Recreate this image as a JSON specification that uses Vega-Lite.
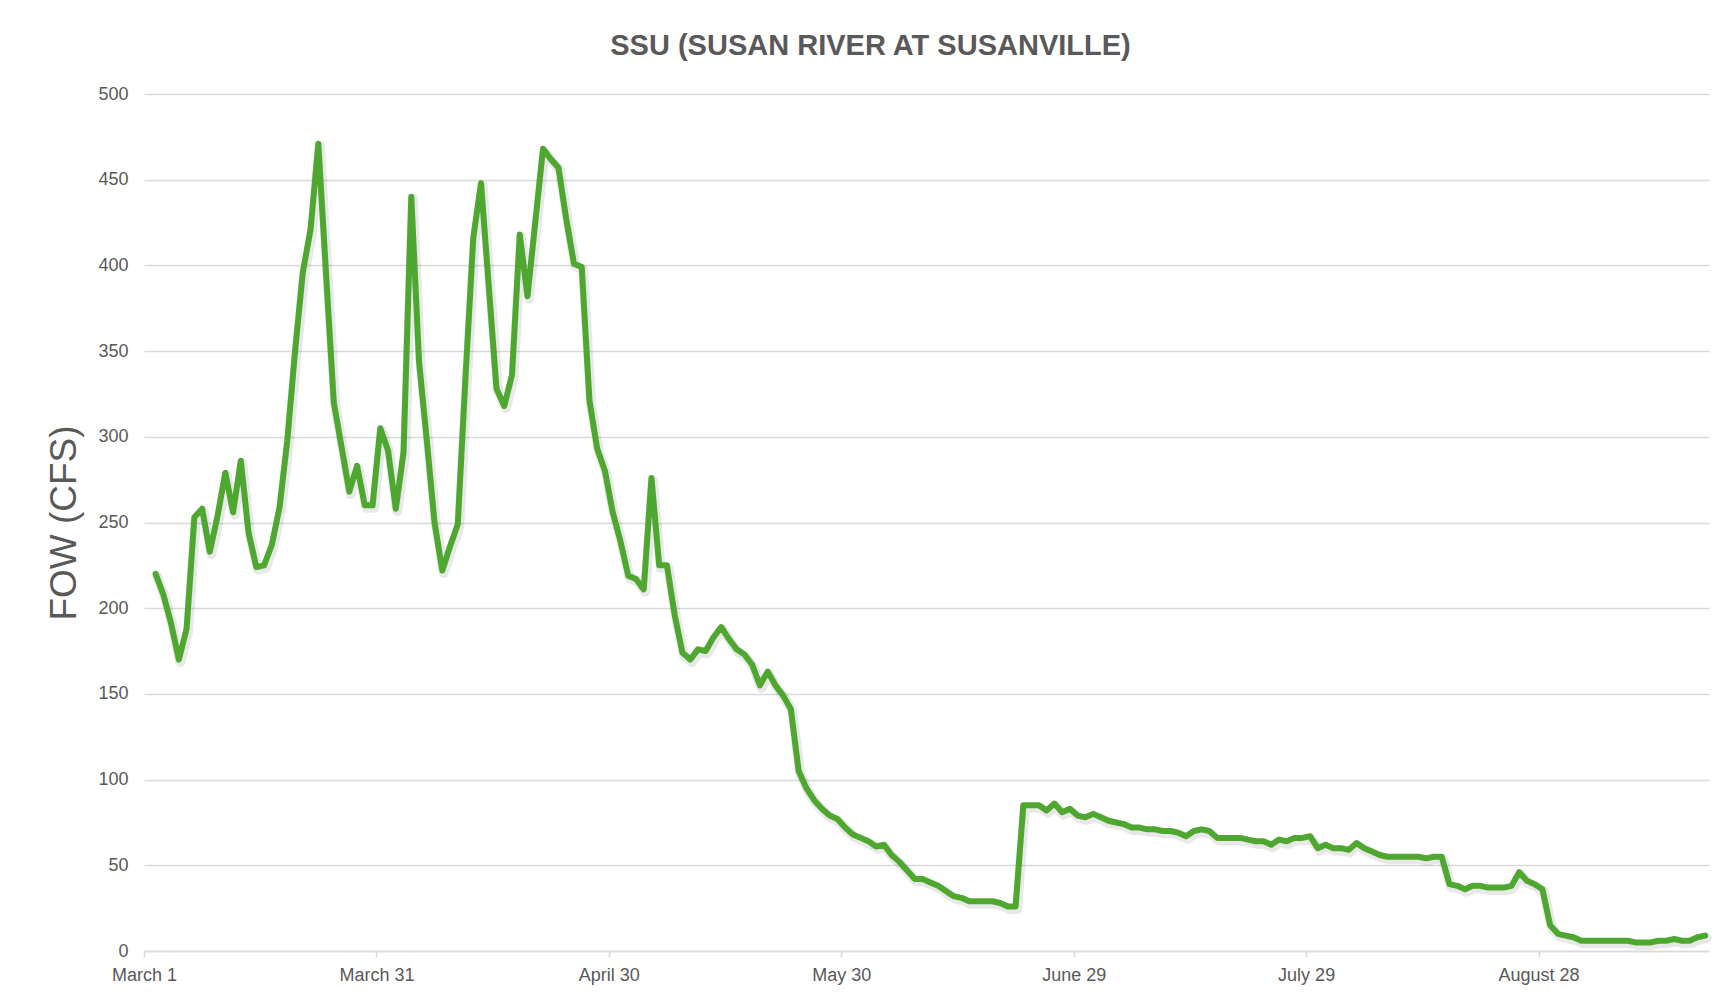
{
  "$schema": "https://vega.github.io/schema/vega-lite/v6.json",
  "width": 1565,
  "height": 857,
  "autosize": {"type": "none"},
  "padding": {"left": 144, "top": 94, "right": 23, "bottom": 49},
  "background": "white",
  "title": {
    "text": "SSU (SUSAN RIVER AT SUSANVILLE)",
    "font": "Liberation Sans",
    "fontWeight": "bold",
    "fontSize": 29,
    "color": "#595959",
    "anchor": "middle",
    "dx": -56,
    "offset": 1,
    "baseline": "alphabetic"
  },
  "data": {
    "values": [
      {"date": "2023-03-02", "flow": 220}, {"date": "2023-03-03", "flow": 208}, {"date": "2023-03-04", "flow": 191},
      {"date": "2023-03-05", "flow": 170}, {"date": "2023-03-06", "flow": 188}, {"date": "2023-03-07", "flow": 253},
      {"date": "2023-03-08", "flow": 258}, {"date": "2023-03-09", "flow": 233}, {"date": "2023-03-10", "flow": 254},
      {"date": "2023-03-11", "flow": 279}, {"date": "2023-03-12", "flow": 256}, {"date": "2023-03-13", "flow": 286},
      {"date": "2023-03-14", "flow": 244}, {"date": "2023-03-15", "flow": 224}, {"date": "2023-03-16", "flow": 225},
      {"date": "2023-03-17", "flow": 237}, {"date": "2023-03-18", "flow": 259}, {"date": "2023-03-19", "flow": 298},
      {"date": "2023-03-20", "flow": 350}, {"date": "2023-03-21", "flow": 396}, {"date": "2023-03-22", "flow": 421},
      {"date": "2023-03-23", "flow": 471}, {"date": "2023-03-24", "flow": 395}, {"date": "2023-03-25", "flow": 320},
      {"date": "2023-03-26", "flow": 294}, {"date": "2023-03-27", "flow": 268}, {"date": "2023-03-28", "flow": 283},
      {"date": "2023-03-29", "flow": 260}, {"date": "2023-03-30", "flow": 260}, {"date": "2023-03-31", "flow": 305},
      {"date": "2023-04-01", "flow": 292}, {"date": "2023-04-02", "flow": 258}, {"date": "2023-04-03", "flow": 291},
      {"date": "2023-04-04", "flow": 440}, {"date": "2023-04-05", "flow": 344}, {"date": "2023-04-06", "flow": 298},
      {"date": "2023-04-07", "flow": 250}, {"date": "2023-04-08", "flow": 222}, {"date": "2023-04-09", "flow": 236},
      {"date": "2023-04-10", "flow": 249}, {"date": "2023-04-11", "flow": 335}, {"date": "2023-04-12", "flow": 416},
      {"date": "2023-04-13", "flow": 448}, {"date": "2023-04-14", "flow": 388}, {"date": "2023-04-15", "flow": 328},
      {"date": "2023-04-16", "flow": 318}, {"date": "2023-04-17", "flow": 336}, {"date": "2023-04-18", "flow": 418},
      {"date": "2023-04-19", "flow": 382}, {"date": "2023-04-20", "flow": 425}, {"date": "2023-04-21", "flow": 468},
      {"date": "2023-04-22", "flow": 462}, {"date": "2023-04-23", "flow": 457}, {"date": "2023-04-24", "flow": 427},
      {"date": "2023-04-25", "flow": 401}, {"date": "2023-04-26", "flow": 399}, {"date": "2023-04-27", "flow": 321},
      {"date": "2023-04-28", "flow": 293}, {"date": "2023-04-29", "flow": 280}, {"date": "2023-04-30", "flow": 256},
      {"date": "2023-05-01", "flow": 239}, {"date": "2023-05-02", "flow": 219}, {"date": "2023-05-03", "flow": 217},
      {"date": "2023-05-04", "flow": 211}, {"date": "2023-05-05", "flow": 276}, {"date": "2023-05-06", "flow": 225},
      {"date": "2023-05-07", "flow": 225}, {"date": "2023-05-08", "flow": 196}, {"date": "2023-05-09", "flow": 174},
      {"date": "2023-05-10", "flow": 170}, {"date": "2023-05-11", "flow": 176}, {"date": "2023-05-12", "flow": 175},
      {"date": "2023-05-13", "flow": 183}, {"date": "2023-05-14", "flow": 189}, {"date": "2023-05-15", "flow": 182},
      {"date": "2023-05-16", "flow": 176}, {"date": "2023-05-17", "flow": 173}, {"date": "2023-05-18", "flow": 167},
      {"date": "2023-05-19", "flow": 155}, {"date": "2023-05-20", "flow": 163}, {"date": "2023-05-21", "flow": 155},
      {"date": "2023-05-22", "flow": 149}, {"date": "2023-05-23", "flow": 141}, {"date": "2023-05-24", "flow": 105},
      {"date": "2023-05-25", "flow": 95}, {"date": "2023-05-26", "flow": 88}, {"date": "2023-05-27", "flow": 83},
      {"date": "2023-05-28", "flow": 79}, {"date": "2023-05-29", "flow": 77}, {"date": "2023-05-30", "flow": 72},
      {"date": "2023-05-31", "flow": 68}, {"date": "2023-06-01", "flow": 66}, {"date": "2023-06-02", "flow": 64},
      {"date": "2023-06-03", "flow": 61}, {"date": "2023-06-04", "flow": 62}, {"date": "2023-06-05", "flow": 56},
      {"date": "2023-06-06", "flow": 52}, {"date": "2023-06-07", "flow": 47}, {"date": "2023-06-08", "flow": 42},
      {"date": "2023-06-09", "flow": 42}, {"date": "2023-06-10", "flow": 40}, {"date": "2023-06-11", "flow": 38},
      {"date": "2023-06-12", "flow": 35}, {"date": "2023-06-13", "flow": 32}, {"date": "2023-06-14", "flow": 31},
      {"date": "2023-06-15", "flow": 29}, {"date": "2023-06-16", "flow": 29}, {"date": "2023-06-17", "flow": 29},
      {"date": "2023-06-18", "flow": 29}, {"date": "2023-06-19", "flow": 28}, {"date": "2023-06-20", "flow": 26},
      {"date": "2023-06-21", "flow": 26}, {"date": "2023-06-22", "flow": 85}, {"date": "2023-06-23", "flow": 85},
      {"date": "2023-06-24", "flow": 85}, {"date": "2023-06-25", "flow": 82}, {"date": "2023-06-26", "flow": 86},
      {"date": "2023-06-27", "flow": 81}, {"date": "2023-06-28", "flow": 83}, {"date": "2023-06-29", "flow": 79},
      {"date": "2023-06-30", "flow": 78}, {"date": "2023-07-01", "flow": 80}, {"date": "2023-07-02", "flow": 78},
      {"date": "2023-07-03", "flow": 76}, {"date": "2023-07-04", "flow": 75}, {"date": "2023-07-05", "flow": 74},
      {"date": "2023-07-06", "flow": 72}, {"date": "2023-07-07", "flow": 72}, {"date": "2023-07-08", "flow": 71},
      {"date": "2023-07-09", "flow": 71}, {"date": "2023-07-10", "flow": 70}, {"date": "2023-07-11", "flow": 70},
      {"date": "2023-07-12", "flow": 69}, {"date": "2023-07-13", "flow": 67}, {"date": "2023-07-14", "flow": 70},
      {"date": "2023-07-15", "flow": 71}, {"date": "2023-07-16", "flow": 70}, {"date": "2023-07-17", "flow": 66},
      {"date": "2023-07-18", "flow": 66}, {"date": "2023-07-19", "flow": 66}, {"date": "2023-07-20", "flow": 66},
      {"date": "2023-07-21", "flow": 65}, {"date": "2023-07-22", "flow": 64}, {"date": "2023-07-23", "flow": 64},
      {"date": "2023-07-24", "flow": 62}, {"date": "2023-07-25", "flow": 65}, {"date": "2023-07-26", "flow": 64},
      {"date": "2023-07-27", "flow": 66}, {"date": "2023-07-28", "flow": 66}, {"date": "2023-07-29", "flow": 67},
      {"date": "2023-07-30", "flow": 60}, {"date": "2023-07-31", "flow": 62}, {"date": "2023-08-01", "flow": 60},
      {"date": "2023-08-02", "flow": 60}, {"date": "2023-08-03", "flow": 59}, {"date": "2023-08-04", "flow": 63},
      {"date": "2023-08-05", "flow": 60}, {"date": "2023-08-06", "flow": 58}, {"date": "2023-08-07", "flow": 56},
      {"date": "2023-08-08", "flow": 55}, {"date": "2023-08-09", "flow": 55}, {"date": "2023-08-10", "flow": 55},
      {"date": "2023-08-11", "flow": 55}, {"date": "2023-08-12", "flow": 55}, {"date": "2023-08-13", "flow": 54},
      {"date": "2023-08-14", "flow": 55}, {"date": "2023-08-15", "flow": 55}, {"date": "2023-08-16", "flow": 39},
      {"date": "2023-08-17", "flow": 38}, {"date": "2023-08-18", "flow": 36}, {"date": "2023-08-19", "flow": 38},
      {"date": "2023-08-20", "flow": 38}, {"date": "2023-08-21", "flow": 37}, {"date": "2023-08-22", "flow": 37},
      {"date": "2023-08-23", "flow": 37}, {"date": "2023-08-24", "flow": 38}, {"date": "2023-08-25", "flow": 46},
      {"date": "2023-08-26", "flow": 41}, {"date": "2023-08-27", "flow": 39}, {"date": "2023-08-28", "flow": 36},
      {"date": "2023-08-29", "flow": 15}, {"date": "2023-08-30", "flow": 10}, {"date": "2023-08-31", "flow": 9},
      {"date": "2023-09-01", "flow": 8}, {"date": "2023-09-02", "flow": 6}, {"date": "2023-09-03", "flow": 6},
      {"date": "2023-09-04", "flow": 6}, {"date": "2023-09-05", "flow": 6}, {"date": "2023-09-06", "flow": 6},
      {"date": "2023-09-07", "flow": 6}, {"date": "2023-09-08", "flow": 6}, {"date": "2023-09-09", "flow": 5},
      {"date": "2023-09-10", "flow": 5}, {"date": "2023-09-11", "flow": 5}, {"date": "2023-09-12", "flow": 6},
      {"date": "2023-09-13", "flow": 6}, {"date": "2023-09-14", "flow": 7}, {"date": "2023-09-15", "flow": 6},
      {"date": "2023-09-16", "flow": 6}, {"date": "2023-09-17", "flow": 8}, {"date": "2023-09-18", "flow": 9}
    ]
  },
  "encoding": {
    "x": {
      "field": "date",
      "type": "temporal",
      "title": null,
      "scale": {
        "type": "utc",
        "domain": [
          {"year": 2023, "month": 2, "date": 28, "hours": 12, "utc": true},
          {"year": 2023, "month": 9, "date": 18, "hours": 12, "utc": true}
        ]
      },
      "axis": {
        "values": [
          {"year": 2023, "month": 2, "date": 28, "hours": 12, "utc": true},
          {"year": 2023, "month": 3, "date": 30, "hours": 12, "utc": true},
          {"year": 2023, "month": 4, "date": 29, "hours": 12, "utc": true},
          {"year": 2023, "month": 5, "date": 29, "hours": 12, "utc": true},
          {"year": 2023, "month": 6, "date": 28, "hours": 12, "utc": true},
          {"year": 2023, "month": 7, "date": 28, "hours": 12, "utc": true},
          {"year": 2023, "month": 8, "date": 27, "hours": 12, "utc": true}
        ],
        "labelExpr": "utcFormat(datum.value + 43200000, '%B %-d')",
        "grid": false,
        "domain": true,
        "domainColor": "#d9d9d9",
        "domainWidth": 1.5,
        "ticks": true,
        "tickColor": "#d9d9d9",
        "tickWidth": 1.5,
        "tickSize": 6,
        "labelPadding": 9,
        "labelFlush": false,
        "labelOverlap": false
      }
    },
    "y": {
      "field": "flow",
      "type": "quantitative",
      "title": "FOW (CFS)",
      "scale": {"domain": [0, 500], "nice": false, "zero": true},
      "axis": {
        "values": [0, 50, 100, 150, 200, 250, 300, 350, 400, 450, 500],
        "grid": true,
        "gridColor": "#d9d9d9",
        "gridWidth": 1.5,
        "domain": false,
        "ticks": false,
        "labelPadding": 16,
        "titlePadding": 14,
        "titleFont": "Liberation Sans",
        "titleFontSize": 37,
        "titleFontWeight": "normal",
        "titleColor": "#595959"
      }
    }
  },
  "layer": [
    {
      "mark": {
        "type": "line",
        "stroke": "#000000",
        "strokeOpacity": 0.09,
        "strokeWidth": 10,
        "strokeJoin": "round",
        "strokeCap": "round",
        "xOffset": 1.5,
        "yOffset": 2.5
      }
    },
    {
      "mark": {
        "type": "line",
        "stroke": "#4ea72e",
        "strokeWidth": 6,
        "strokeJoin": "round",
        "strokeCap": "round"
      }
    }
  ],
  "config": {
    "view": {"stroke": null},
    "axis": {
      "labelFont": "Liberation Sans",
      "labelFontSize": 18,
      "labelColor": "#595959"
    }
  }
}
